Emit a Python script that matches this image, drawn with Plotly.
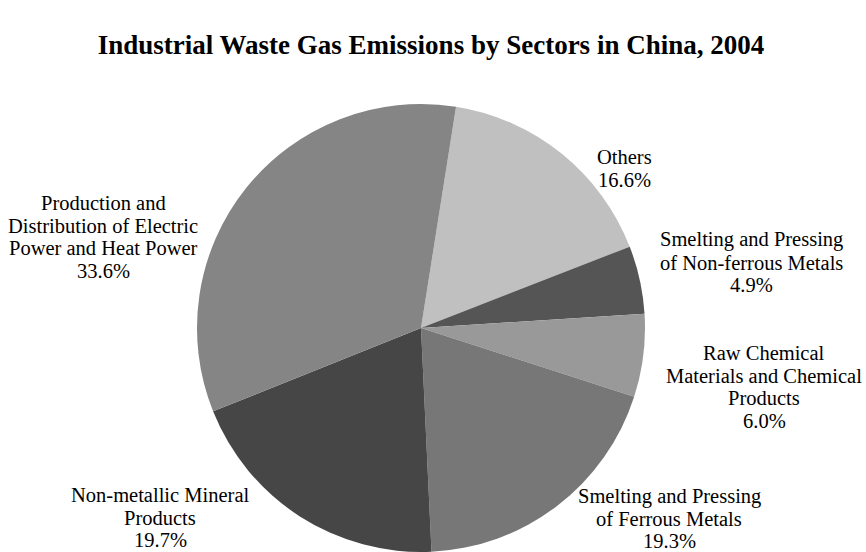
import plotly.graph_objects as go

# ---- data ----
sectors = [
    "Others",
    "Smelting and Pressing<br>of Non-ferrous Metals",
    "Raw Chemical<br>Materials and Chemical<br>Products",
    "Smelting and Pressing<br>of Ferrous Metals",
    "Non-metallic Mineral<br>Products",
    "Production and<br>Distribution of Electric<br>Power and Heat Power",
]
shares = [16.6, 4.9, 6.0, 19.3, 19.7, 33.6]
slice_colors = ["#c0c0c0", "#555555", "#999999", "#777777", "#464646", "#858585"]
title_text = "Industrial Waste Gas Emissions by Sectors in China, 2004"

# ---- layout helpers (label block centres in px: x centre, first line y) ----
W, H = 866, 552
label_pos = [(624, 157), (751, 240), (764, 353), (669, 496), (160, 495), (103, 203)]
line_step = 22.6
serif = "Times New Roman, Liberation Serif, serif"

fig = go.Figure()
fig.add_trace(go.Pie(
    labels=[s.replace("<br>", " ") for s in sectors],
    values=shares,
    sort=False,
    direction="clockwise",
    rotation=9,
    textinfo="none",
    marker=dict(colors=slice_colors, line=dict(width=0)),
    showlegend=False,
    domain=dict(x=[197 / W, 645 / W], y=[0, 448 / H]),
))

annotations = []
for name, val, (cx, y0) in zip(sectors, shares, label_pos):
    lines = name.split("<br>") + [f"{val:.1f}%"]
    for i, ln in enumerate(lines):
        annotations.append(dict(
            text=ln, x=cx / W, y=1 - (y0 + i * line_step) / H,
            xref="paper", yref="paper", xanchor="center", yanchor="middle",
            showarrow=False, font=dict(family=serif, size=20.5, color="#000000"),
        ))

fig.update_layout(
    width=W, height=H,
    margin=dict(l=0, r=0, t=0, b=0),
    paper_bgcolor="white", plot_bgcolor="white",
    title=dict(text="<b>" + title_text + "</b>", x=431 / W, xanchor="center",
               y=1 - 45 / H, yanchor="middle", yref="container",
               font=dict(family=serif, size=27, color="#000000")),
    annotations=annotations,
)

fig.write_html("out.html")
